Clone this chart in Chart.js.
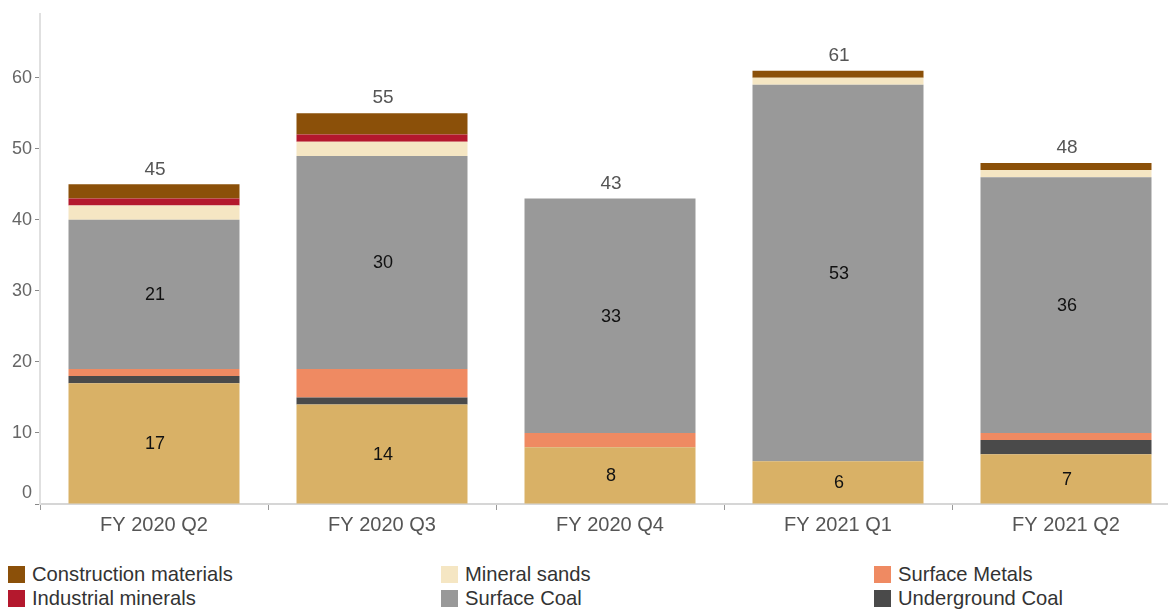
<!DOCTYPE html>
<html>
<head>
<meta charset="utf-8">
<script src="https://cdn.jsdelivr.net/npm/chart.js@4/dist/chart.umd.min.js"></script>
<style>
  html, body { margin: 0; padding: 0; background: #fff; overflow: hidden; width: 1168px; height: 609px; }
  body { font-family: "Liberation Sans", Arial, sans-serif; position: relative; }
  #wrap { position: absolute; left: 0; top: 0; width: 1180px; height: 545px; }
  #legend { position: absolute; left: 8px; top: 565px; width: 1300px; display: grid;
    grid-template-columns: 433px 433px 433px; row-gap: 6px; }
  .item { display: flex; align-items: center; height: 18px; font-size: 20.2px; color: #333; white-space: nowrap; }
  .sw { width: 17px; height: 17px; margin-right: 7px; flex: none; }
</style>
</head>
<body>
<div id="wrap"><canvas id="chart"></canvas></div>
<div id="legend"></div>
<script>
// ----- Data -----
const quarters = ["FY 2020 Q2", "FY 2020 Q3", "FY 2020 Q4", "FY 2021 Q1", "FY 2021 Q2"];

const undergroundMetals = [17, 14, 8, 6, 7];
const undergroundCoal = [1, 1, 0, 0, 2];
const surfaceMetals = [1, 4, 2, 0, 1];
const surfaceCoal = [21, 30, 33, 53, 36];
const mineralSands = [2, 2, 0, 1, 1];
const industrialMinerals = [1, 1, 0, 0, 0];
const constructionMaterials = [2, 3, 0, 1, 1];

const yTicks = [0, 10, 20, 30, 40, 50, 60];

// stacked bottom -> top
const series = [
  { label: "Underground Metals", data: undergroundMetals, color: "#D9B166", showValue: true },
  { label: "Underground Coal", data: undergroundCoal, color: "#4A4A4A" },
  { label: "Surface Metals", data: surfaceMetals, color: "#EF8A62" },
  { label: "Surface Coal", data: surfaceCoal, color: "#999999", showValue: true },
  { label: "Mineral sands", data: mineralSands, color: "#F5E6C3" },
  { label: "Industrial minerals", data: industrialMinerals, color: "#B4182D" },
  { label: "Construction materials", data: constructionMaterials, color: "#8B5009" }
];

const legendOrder = ["Construction materials", "Mineral sands", "Surface Metals",
  "Industrial minerals", "Surface Coal", "Underground Coal"];

const FONT = "'Liberation Sans', Arial, sans-serif";

// totals above bars + values inside selected segments
const labelPlugin = {
  id: "barLabels",
  afterDatasetsDraw(chart) {
    const ctx = chart.ctx;
    const y = chart.scales.y;
    ctx.save();
    ctx.textAlign = "center";
    ctx.textBaseline = "middle";
    chart.data.datasets.forEach((ds, di) => {
      if (!series[di].showValue) return;
      const meta = chart.getDatasetMeta(di);
      meta.data.forEach((bar, i) => {
        const v = ds.data[i];
        if (!v) return;
        ctx.font = "18px " + FONT;
        ctx.fillStyle = "#111";
        ctx.fillText(String(v), bar.x + 1, (bar.y + bar.base) / 2 + 1);
      });
    });
    quarters.forEach((q, i) => {
      const total = series.reduce((s, d) => s + d.data[i], 0);
      const x = chart.getDatasetMeta(0).data[i].x;
      ctx.font = "19px " + FONT;
      ctx.fillStyle = "#555";
      ctx.fillText(String(total), x + 1, y.getPixelForValue(total) - 15);
    });
    // zero label sits a little above its tick
    ctx.textAlign = "right";
    ctx.font = "18px " + FONT;
    ctx.fillStyle = "#666";
    ctx.fillText("0", chart.chartArea.left - 8, y.getPixelForValue(0) - 11);
    ctx.restore();
  }
};

const chart = new Chart(document.getElementById("chart"), {
  type: "bar",
  data: {
    labels: quarters,
    datasets: series.map(s => ({
      label: s.label,
      data: s.data,
      backgroundColor: s.color,
      borderWidth: 0,
      barPercentage: 0.75,
      categoryPercentage: 1
    }))
  },
  options: {
    responsive: true,
    maintainAspectRatio: false,
    animation: false,
    layout: { padding: { top: 12, left: 0, right: 0, bottom: 0 } },
    plugins: { legend: { display: false }, tooltip: { enabled: false } },
    scales: {
      x: {
        stacked: true,
        border: { color: "#d6d6d6", width: 2 },
        grid: { drawOnChartArea: false, color: "#999", tickLength: 6, offset: true },
        ticks: { color: "#555", padding: 3, font: { size: 20, family: FONT } },
        afterFit(scale) { scale.height = 41; }
      },
      y: {
        stacked: true,
        min: 0,
        max: 69,
        border: { color: "#e0e0e0", width: 2 },
        grid: { drawOnChartArea: false, color: "#888", tickLength: 5 },
        afterBuildTicks(scale) { scale.ticks = yTicks.map(v => ({ value: v })); },
        ticks: {
          color: "#666",
          padding: 3,
          font: { size: 18, family: FONT },
          callback: v => (v === 0 ? "" : v)
        },
        afterFit(scale) { scale.width = 40; }
      }
    }
  },
  plugins: [labelPlugin]
});

// ----- Legend -----
const legendEl = document.getElementById("legend");
legendOrder.forEach(name => {
  const s = series.find(d => d.label === name);
  const div = document.createElement("div");
  div.className = "item";
  div.innerHTML = `<span class="sw" style="background:${s.color}"></span>${s.label}`;
  legendEl.appendChild(div);
});
</script>
</body>
</html>
